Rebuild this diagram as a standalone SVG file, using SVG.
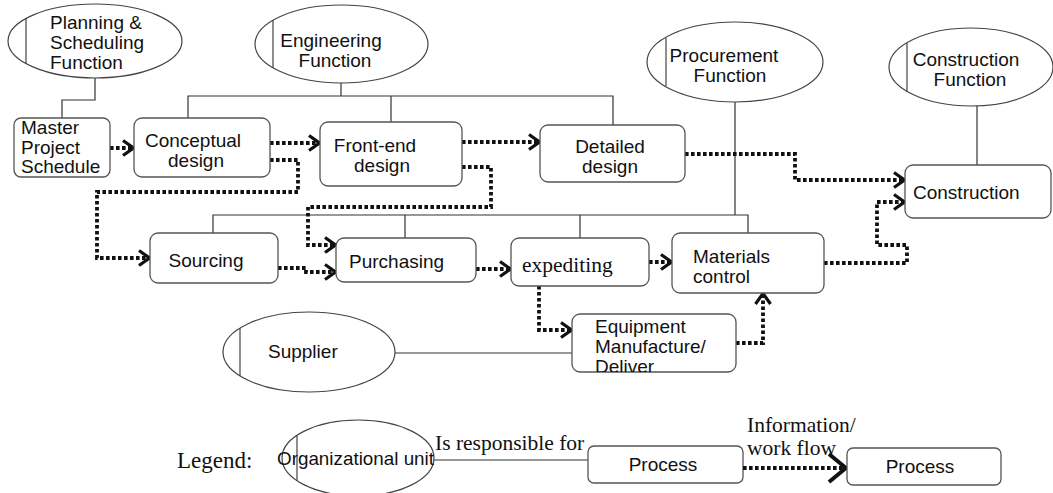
<svg xmlns="http://www.w3.org/2000/svg" width="1053" height="493" viewBox="0 0 1053 493">
<style>
.unit{fill:#fff;stroke:#444;stroke-width:1.2}
.box{fill:#fff;stroke:#555;stroke-width:1.3}
.div{stroke:#444;stroke-width:1.2}
.t{font-family:"Liberation Sans",Arial,sans-serif;font-size:19px;fill:#111}
.s{font-family:"Liberation Serif","Times New Roman",serif;fill:#111}
.resp{fill:none;stroke:#333;stroke-width:1.2}
.flow{fill:none;stroke:#111;stroke-width:3.8;stroke-dasharray:3.6 2.4;marker-end:url(#chev)}
</style>
<defs>
<marker id="chev" markerUnits="userSpaceOnUse" viewBox="0 0 14 18" refX="12.5" refY="9" markerWidth="14" markerHeight="18" orient="auto">
<path d="M1.5,1.5 L12,9 L1.5,16.5" fill="none" stroke="#111" stroke-width="3.2"/>
</marker>
<marker id="chevBig" markerUnits="userSpaceOnUse" viewBox="0 0 22 32" refX="20" refY="16" markerWidth="22" markerHeight="32" orient="auto">
<path d="M2,2 L19,16 L2,30" fill="none" stroke="#111" stroke-width="4"/>
</marker>
<clipPath id="eqclip"><rect x="572" y="314" width="164" height="58"/></clipPath>
</defs>

<g id="connectors">
<path class="resp" d="M95,78 L95,100 L62,100 L62,118"/>
<path class="resp" d="M341,83 L341,96 M188,118 L188,96 L613,96 L613,125 M391,96 L391,122"/>
<path class="resp" d="M735,102 L735,215 M213,233 L213,215 L748,215 L748,233 M405,215 L405,238 M580,215 L580,238"/>
<path class="resp" d="M977,106 L977,165"/>
<path class="resp" d="M395,353 L572,353"/>
<path class="flow" d="M110,148 L134,148"/>
<path class="flow" d="M270,143 L320,143"/>
<path class="flow" d="M462,142 L540,142"/>
<path class="flow" d="M270,160 L298,160 L298,192 L97,192 L97,258 L150,258"/>
<path class="flow" d="M462,167 L491,167 L491,207 L308,207 L308,245 L336,245"/>
<path class="flow" d="M278,268 L306,268 L306,272 L336,272"/>
<path class="flow" d="M476,269 L511,269"/>
<path class="flow" d="M649,262 L672,262"/>
<path class="flow" d="M539,286 L539,330 L572,330"/>
<path class="flow" d="M736,343 L763,343 L763,293"/>
<path class="flow" d="M685,154 L795,154 L795,180 L905,180"/>
<path class="flow" d="M824,263 L907,263 L907,245 L877,245 L877,202 L905,202"/>
</g>

<g id="planning-function">
<ellipse class="unit" cx="95" cy="41" rx="87" ry="37"/>
<line class="div" x1="26" y1="18" x2="26" y2="64"/>
<text class="t" x="50" y="29">Planning &amp;</text>
<text class="t" x="50" y="49">Scheduling</text>
<text class="t" x="50" y="69">Function</text>
</g>

<g id="engineering-function">
<ellipse class="unit" cx="341.5" cy="44" rx="86.5" ry="39"/>
<line class="div" x1="273" y1="20" x2="273" y2="68"/>
<text class="t" x="331" y="47" text-anchor="middle">Engineering</text>
<text class="t" x="335" y="67" text-anchor="middle">Function</text>
</g>

<g id="procurement-function">
<ellipse class="unit" cx="735" cy="62" rx="88" ry="40"/>
<line class="div" x1="666" y1="38" x2="666" y2="86"/>
<text class="t" x="724" y="62" text-anchor="middle">Procurement</text>
<text class="t" x="730" y="82" text-anchor="middle">Function</text>
</g>

<g id="construction-function">
<ellipse class="unit" cx="971" cy="67" rx="82" ry="39"/>
<line class="div" x1="907" y1="43" x2="907" y2="91"/>
<text class="t" x="966" y="66" text-anchor="middle">Construction</text>
<text class="t" x="970" y="86" text-anchor="middle">Function</text>
</g>

<g id="master-project-schedule">
<rect class="box" x="14" y="118" width="96" height="59" rx="7"/>
<text class="t" x="21" y="134">Master</text>
<text class="t" x="21" y="153.5">Project</text>
<text class="t" x="21" y="173">Schedule</text>
</g>

<g id="conceptual-design">
<rect class="box" x="134" y="118" width="136" height="59" rx="8"/>
<text class="t" x="193" y="147" text-anchor="middle">Conceptual</text>
<text class="t" x="196" y="167" text-anchor="middle">design</text>
</g>

<g id="front-end-design">
<rect class="box" x="320" y="122" width="142" height="64" rx="8"/>
<text class="t" x="375" y="152" text-anchor="middle">Front-end</text>
<text class="t" x="382" y="172" text-anchor="middle">design</text>
</g>

<g id="detailed-design">
<rect class="box" x="540" y="125" width="145" height="57" rx="8"/>
<text class="t" x="610" y="153" text-anchor="middle">Detailed</text>
<text class="t" x="610" y="173" text-anchor="middle">design</text>
</g>

<g id="construction">
<rect class="box" x="905" y="165" width="146" height="53" rx="8"/>
<text class="t" x="913" y="199">Construction</text>
</g>

<g id="sourcing">
<rect class="box" x="150" y="233" width="128" height="50" rx="8"/>
<text class="t" x="206" y="267" text-anchor="middle">Sourcing</text>
</g>

<g id="purchasing">
<rect class="box" x="336" y="238" width="140" height="44" rx="8"/>
<text class="t" x="349" y="268">Purchasing</text>
</g>

<g id="expediting">
<rect class="box" x="511" y="238" width="138" height="48" rx="8"/>
<text class="s" x="522" y="272" font-size="21.5">expediting</text>
</g>

<g id="materials-control">
<rect class="box" x="672" y="233" width="152" height="60" rx="8"/>
<text class="t" x="693" y="263">Materials</text>
<text class="t" x="693" y="283">control</text>
</g>

<g id="equipment-manufacture">
<rect class="box" x="572" y="314" width="164" height="58" rx="8"/>
<g clip-path="url(#eqclip)">
<text class="t" x="595" y="333">Equipment</text>
<text class="t" x="595" y="353">Manufacture/</text>
<text class="t" x="595" y="373">Deliver</text>
</g>
</g>

<g id="supplier">
<ellipse class="unit" cx="309" cy="352" rx="86" ry="40"/>
<line class="div" x1="240" y1="328" x2="240" y2="376"/>
<text class="t" x="268" y="358">Supplier</text>
</g>

<g id="legend">
<text class="s" x="177" y="468" font-size="23">Legend:</text>
<ellipse class="unit" cx="358" cy="458" rx="76" ry="38"/>
<line class="div" x1="297" y1="435" x2="297" y2="481"/>
<text class="t" x="277" y="465" textLength="157" lengthAdjust="spacingAndGlyphs">Organizational unit</text>
<path class="resp" d="M434,460 L588,460"/>
<text class="s" x="435" y="450" font-size="21.5">Is responsible for</text>
<rect class="box" x="588" y="446" width="155" height="37" rx="6"/>
<text class="t" x="663" y="471" text-anchor="middle">Process</text>
<text class="s" x="747" y="432" font-size="21.5">Information/</text>
<text class="s" x="747" y="455" font-size="21.5">work flow</text>
<path d="M743,468 L847,468" fill="none" stroke="#111" stroke-width="3.8" stroke-dasharray="3.6 2.4" marker-end="url(#chevBig)"/>
<rect class="box" x="847" y="448" width="154" height="37" rx="6"/>
<text class="t" x="920" y="473" text-anchor="middle">Process</text>
</g>
</svg>
